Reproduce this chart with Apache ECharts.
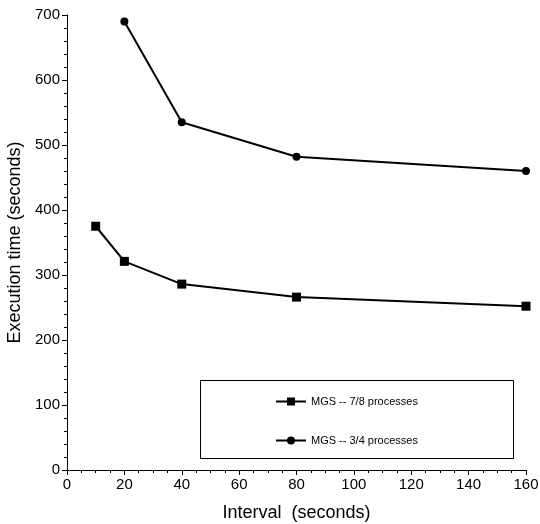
<!DOCTYPE html>
<html>
<head>
<meta charset="utf-8">
<script src="https://cdn.jsdelivr.net/npm/echarts@6/dist/echarts.min.js"></script>
<style>html,body{margin:0;padding:0;background:#fff}#c{width:540px;height:524px}</style>
</head>
<body>
<div id="c"></div>
<script>
const seriesNames = ['MGS -- 7/8 processes', 'MGS -- 3/4 processes'];
const intervals78 = [10, 20, 40, 80, 160];
const times78 = [375, 321, 286, 266, 252];
const intervals34 = [20, 40, 80, 160];
const times34 = [690, 535, 482, 460];
const xTicks = [0, 20, 40, 60, 80, 100, 120, 140, 160];
const yTicks = [0, 100, 200, 300, 400, 500, 600, 700];

const font = 'Liberation Sans, Arial, sans-serif';
const chart = echarts.init(document.getElementById('c'), null, {renderer: 'canvas'});
const axisCommon = {
  axisLine: {show: true, onZero: false, lineStyle: {color: '#000', width: 1}},
  axisTick: {show: true, inside: false, length: 5, lineStyle: {color: '#000'}},
  splitLine: {show: false},
  nameTextStyle: {color: '#000', fontSize: 18, fontFamily: font}
};
chart.setOption({
  animation: false,
  backgroundColor: '#fff',
  grid: {left: 67, right: 14, top: 15, bottom: 54, containLabel: false, outerBoundsMode: 'none'},
  xAxis: Object.assign({}, axisCommon, {
    type: 'value', min: xTicks[0], max: xTicks[xTicks.length - 1], interval: 20,
    minorTick: {show: true, splitNumber: 4, length: 3, lineStyle: {color: '#000'}},
    name: 'Interval  (seconds)', nameLocation: 'middle', nameGap: 34,
    axisLabel: {color: '#000', fontSize: 15, fontFamily: font, margin: 7}
  }),
  yAxis: Object.assign({}, axisCommon, {
    type: 'value', min: yTicks[0], max: yTicks[yTicks.length - 1], interval: 100,
    minorTick: {show: true, splitNumber: 5, length: 3, lineStyle: {color: '#000'}},
    name: 'Execution time (seconds)', nameLocation: 'middle', nameGap: 42,
    axisLabel: {color: '#000', fontSize: 15, fontFamily: font, margin: 7}
  }),
  legend: {
    orient: 'vertical', left: 270, top: 391, itemGap: 28, itemWidth: 30, itemHeight: 10,
    textStyle: {color: '#000', fontSize: 11, fontFamily: font},
    data: seriesNames
  },
  graphic: [{
    type: 'rect', left: 198, top: 378, z: 0,
    shape: {width: 313, height: 78},
    style: {fill: 'none', stroke: '#000', lineWidth: 1}
  }],
  series: [
    {
      name: seriesNames[0], type: 'line',
      data: intervals78.map((x, i) => [x, times78[i]]),
      symbol: 'rect', symbolSize: 9,
      lineStyle: {color: '#000', width: 2},
      itemStyle: {color: '#000'}
    },
    {
      name: seriesNames[1], type: 'line',
      data: intervals34.map((x, i) => [x, times34[i]]),
      symbol: 'circle', symbolSize: 8,
      lineStyle: {color: '#000', width: 2},
      itemStyle: {color: '#000'}
    }
  ]
});
</script>
</body>
</html>
